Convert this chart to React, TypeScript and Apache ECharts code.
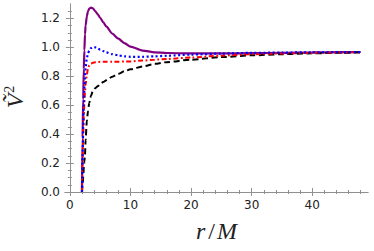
import React, { useEffect, useRef } from "react";
import * as echarts from "echarts";

const rVals = [2, 2.1, 2.2, 2.3, 2.4, 2.5, 2.6, 2.8, 3.0, 3.2, 3.5, 3.8, 4.2, 4.6, 5, 5.5, 6, 7, 8, 9, 10, 12, 14, 16, 20, 25, 30, 35, 40, 45, 48];
const purpleV = [0, 0.38, 0.64, 0.85, 0.98, 1.09, 1.15, 1.215, 1.25, 1.268, 1.275, 1.27, 1.25, 1.228, 1.205, 1.175, 1.145, 1.095, 1.06, 1.03, 1.005, 0.978, 0.966, 0.961, 0.958, 0.958, 0.96, 0.962, 0.965, 0.967, 0.968];
const blueV = [0, 0.25, 0.45, 0.6, 0.72, 0.8, 0.86, 0.925, 0.958, 0.978, 0.995, 1.002, 1.0, 0.993, 0.985, 0.975, 0.966, 0.953, 0.945, 0.938, 0.935, 0.935, 0.938, 0.942, 0.95, 0.957, 0.962, 0.964, 0.966, 0.967, 0.968];
const redV = [0, 0.22, 0.4, 0.53, 0.62, 0.69, 0.74, 0.81, 0.855, 0.875, 0.888, 0.894, 0.897, 0.899, 0.9, 0.9, 0.9, 0.9, 0.901, 0.902, 0.903, 0.909, 0.915, 0.92, 0.93, 0.943, 0.952, 0.958, 0.962, 0.965, 0.967];
const blackV = [0, 0.05, 0.1, 0.16, 0.21, 0.26, 0.36, 0.49, 0.56, 0.615, 0.665, 0.7, 0.718, 0.732, 0.745, 0.76, 0.772, 0.797, 0.817, 0.835, 0.848, 0.868, 0.886, 0.898, 0.915, 0.933, 0.945, 0.953, 0.959, 0.963, 0.965];

const xMajor = [0, 10, 20, 30, 40];
const xMinor = [2, 4, 6, 8, 12, 14, 16, 18, 22, 24, 26, 28, 32, 34, 36, 38, 42, 44, 46, 48];
const yMajor = [0, 0.2, 0.4, 0.6, 0.8, 1.0, 1.2];
const yMinor = [0.05, 0.1, 0.15, 0.25, 0.3, 0.35, 0.45, 0.5, 0.55, 0.65, 0.7, 0.75, 0.85, 0.9, 0.95, 1.05, 1.1, 1.15, 1.25];

const XMIN = -0.8;
const XMAX = 49.2;
const YMIN = 0;
const YMAX = 1.3;

const frameColor = "#909090";
const labelFont = { fontFamily: "DejaVu Sans", fontSize: 12, color: "#222" };

function pairs(vals: number[]) {
  return rVals.map((r, i) => [r, vals[i]]);
}

function xAxisDef(position: string, ticks: number[], len: number, main: boolean) {
  return {
    type: "value",
    min: XMIN,
    max: XMAX,
    position,
    axisLine: { show: main, lineStyle: { color: frameColor, width: 1 } },
    axisTick: { show: true, inside: true, length: len, customValues: ticks, lineStyle: { color: frameColor, width: 1 } },
    axisLabel: position === "bottom" && main
      ? { show: true, customValues: xMajor, margin: 7, formatter: (v: number) => String(v), ...labelFont }
      : { show: false },
    splitLine: { show: false },
    ...(position === "bottom" && main
      ? {
          name: "{i|r}{u|/}{i|M}",
          nameLocation: "middle",
          nameGap: 27,
          nameTextStyle: {
            rich: {
              i: { fontFamily: "Liberation Serif", fontStyle: "italic", fontSize: 24, color: "#222" },
              u: { fontFamily: "Liberation Serif", fontSize: 24, color: "#222", padding: [0, 2, 0, 3] },
            },
          },
        }
      : {}),
  };
}

function yAxisDef(position: string, ticks: number[], len: number, main: boolean) {
  return {
    type: "value",
    min: YMIN,
    max: YMAX,
    position,
    axisLine: { show: main, lineStyle: { color: frameColor, width: 1 } },
    axisTick: { show: true, inside: true, length: len, customValues: ticks, lineStyle: { color: frameColor, width: 1 } },
    axisLabel: position === "left" && main
      ? { show: true, customValues: yMajor, margin: 5, formatter: (v: number) => v.toFixed(1), ...labelFont }
      : { show: false },
    splitLine: { show: false },
  };
}

export default function App() {
  const ref = useRef<HTMLDivElement>(null);
  useEffect(() => {
    if (!ref.current) return;
    const chart = echarts.init(ref.current, undefined, { renderer: "svg" });
    const lineBase = { type: "line", showSymbol: false, smooth: 0.25, smoothMonotone: "x", xAxisIndex: 0, yAxisIndex: 0 };
    chart.setOption({
      animation: false,
      backgroundColor: "#fff",
      grid: { left: 65, right: 6, top: 4, bottom: 59, containLabel: false, outerBoundsMode: "none" },
      graphic: [
        {
          type: "text",
          x: 15,
          y: 97,
          rotation: Math.PI / 2,
          style: {
            text: "{v|Ṽ}{s|2}",
            align: "center",
            verticalAlign: "middle",
            rich: {
              v: { fontFamily: "Liberation Serif", fontStyle: "italic", fontSize: 24, fill: "#222", lineHeight: 26 },
              s: { fontFamily: "Liberation Serif", fontSize: 14, fill: "#222", verticalAlign: "top", lineHeight: 26, padding: [0, 0, 10, 1] },
            },
          },
        },
      ],
      xAxis: [
        xAxisDef("bottom", xMajor, 4, true),
        xAxisDef("bottom", xMinor, 2, false),
        xAxisDef("top", xMajor, 4, true),
        xAxisDef("top", xMinor, 2, false),
      ],
      yAxis: [
        yAxisDef("left", yMajor, 4, true),
        yAxisDef("left", yMinor, 2, false),
        yAxisDef("right", yMajor, 4, true),
        yAxisDef("right", yMinor, 2, false),
      ],
      series: [
        { ...lineBase, name: "purple", data: pairs(purpleV), lineStyle: { color: "#800080", width: 2.2 } },
        { ...lineBase, name: "black", data: pairs(blackV), lineStyle: { color: "#000", width: 2, type: [6, 3.5] } },
        { ...lineBase, name: "red", data: pairs(redV), lineStyle: { color: "#ff0000", width: 2, type: [5, 2.5, 1.8, 2.5] } },
        { ...lineBase, name: "blue", data: pairs(blueV), lineStyle: { color: "#0000ff", width: 2.2, type: [2, 2.5] } },
      ],
    });
    return () => chart.dispose();
  }, []);
  return <div ref={ref} style={{ width: 374, height: 251, position: "absolute", left: 0, top: 0 }} />;
}
